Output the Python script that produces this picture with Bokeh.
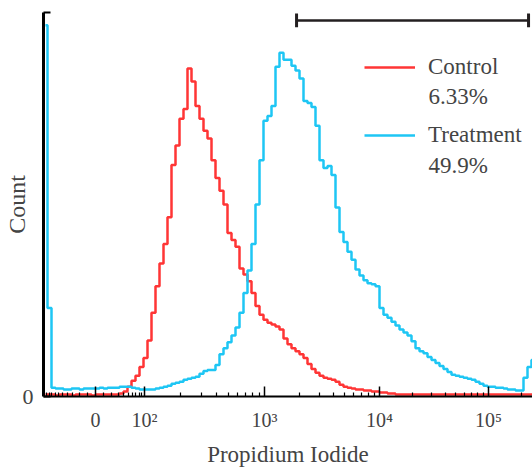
import math
from bokeh.plotting import figure
from bokeh.models import Range1d, FixedTicker, Label, Legend, LegendItem
from bokeh.embed import file_html
from bokeh.resources import INLINE

# ---------------- data ----------------
# histogram on the biexponential display scale, 4-channel bins (bin centres = 2, 6, 10, ...)
bin_width = 4
control_counts = [
    2, 2, 2, 1, 2, 2, 2, 1, 2, 2, 2, 2, 1, 2, 2, 2, 2, 2, 2,
    3, 5, 10, 16, 21, 30, 39, 57, 85, 112, 135, 155, 182, 235, 255, 282, 292, 333, 320,
    295, 282, 270, 262, 240, 222, 209, 195, 166, 159, 152, 130, 124, 117, 105, 92, 83,
    78, 75, 73, 71, 68, 59, 53, 49, 46, 43, 39, 33, 28, 24, 21, 19, 18, 17, 15, 12,
    10, 9, 8, 7, 7, 6, 6, 5, 5, 4, 4, 3, 3,
    2, 2, 2, 2, 2, 2, 2, 2, 2, 2, 2, 2, 2, 2, 2, 2, 2, 2, 2, 2, 2, 2, 2, 2, 2, 2, 2,
    2, 2, 2, 2, 2, 2, 2, 2,
]
treatment_counts = [
    377, 90, 9,
    8, 8, 7, 7, 8, 8, 7, 8, 8, 8, 8, 9, 8, 9, 9,
    9, 10, 10, 10, 9, 8, 7, 7, 7, 7, 8, 9, 10, 11, 13, 14, 15, 17, 18, 19, 20, 23, 26,
    27, 27, 32, 43, 49, 55, 62, 70, 85, 105, 128, 155, 195, 240, 280, 285, 295, 335,
    349, 342, 342, 336, 331, 323, 300, 298, 294, 275, 240, 232, 234, 225, 192, 167,
    157, 147, 139, 129, 123, 118, 115, 114, 112, 90, 83, 80, 76, 72, 68, 65, 62, 56,
    49, 46, 44, 40, 37, 34, 31, 28, 25, 22, 21, 20, 19, 18, 17, 15, 13, 11, 10, 10,
    9, 9, 8, 7, 7, 6, 6, 19, 30, 37,
]
series_names = ["Control", "Treatment"]
series_pcts = ["6.33%", "49.9%"]
x_title = "Propidium Iodide"
y_title = "Count"

# axis scale: decade -> display channel, plus linear (biex) zone below 100
decade_channels = {2: 101, 3: 221, 4: 336, 5: 445}
zero_channel = 52
lin_span = 49          # channels between 0 and 100
lin_width = 30.0       # biex width parameter
major_values = [0, 100, 1000, 10000, 100000]
major_labels = ["0", "10\u00b2", "10\u00b3", "10\u2074", "10\u2075"]
gate_values = (1900, 233000)
x_max_channel = 489
y_max_count = 390


def to_channel(v):
    if v < 100:
        return zero_channel + lin_span * math.asinh(v / lin_width) / math.asinh(100 / lin_width)
    d = math.log10(v)
    k = min(max(int(math.floor(d)), 2), 4)
    c0, c1 = decade_channels[k], decade_channels[k + 1]
    return c0 + (c1 - c0) * (d - k)


centers = [bin_width / 2 + bin_width * i for i in range(len(control_counts))]

# ---------------- figure ----------------
FONT = "Liberation Serif"
p = figure(width=532, height=469, output_backend="svg", toolbar_location=None,
           x_range=Range1d(0, x_max_channel), y_range=Range1d(0, y_max_count),
           min_border_left=43, min_border_right=0, min_border_top=12, min_border_bottom=67)
p.outline_line_color = None
p.grid.visible = False
p.background_fill_color = "white"

r_red = p.step(centers, control_counts, mode="center", line_color="#FF3535", line_width=2.5)
r_cyan = p.step(centers, treatment_counts, mode="center", line_color="#1EC6F4", line_width=2.5)

# x axis (biexponential ticks)
major_ch = [round(to_channel(v)) for v in major_values]
minor_vals = [-100] + [s * k for s in (-1, 1) for k in range(10, 100, 10)]
for dec in (100, 1000, 10000, 100000):
    minor_vals += [m * dec for m in range(2, 10)]
minor_ch = [to_channel(v) for v in minor_vals if to_channel(v) <= x_max_channel]
xa = p.xaxis[0]
xa.ticker = FixedTicker(ticks=major_ch, minor_ticks=minor_ch)
xa.major_label_overrides = {c: lab for c, lab in zip(major_ch, major_labels)}
xa.axis_line_width = 2
xa.major_tick_in = 10
xa.major_tick_out = 0
xa.minor_tick_in = 4
xa.minor_tick_out = 0
xa.major_tick_line_width = 1.5
xa.minor_tick_line_width = 1.2
xa.major_label_text_font = FONT
xa.major_label_text_font_size = "20px"
xa.major_label_standoff = 12
xa.axis_label = x_title
xa.axis_label_text_font = FONT
xa.axis_label_text_font_size = "23px"
xa.axis_label_text_font_style = "normal"
xa.axis_label_standoff = 8

ya = p.yaxis[0]
ya.ticker = FixedTicker(ticks=[0, y_max_count], minor_ticks=[])
ya.major_label_overrides = {0: "0", y_max_count: ""}
ya.axis_line_width = 3
ya.major_tick_in = 7
ya.major_tick_out = 0
ya.major_tick_line_width = 2
ya.major_label_text_font = FONT
ya.major_label_text_font_size = "22px"
ya.major_label_standoff = 10
ya.axis_label = y_title
ya.axis_label_text_font = FONT
ya.axis_label_text_font_size = "24px"
ya.axis_label_text_font_style = "normal"
ya.axis_label_standoff = -10

# gate bar
g0, g1 = to_channel(gate_values[0]), to_channel(gate_values[1])
gate_y = 382
p.segment(x0=[g0], y0=[gate_y], x1=[g1], y1=[gate_y], line_color="#231F20", line_width=2.5)
p.segment(x0=[g0, g1], y0=[gate_y - 7] * 2, x1=[g0, g1], y1=[gate_y + 7] * 2,
          line_color="#231F20", line_width=3)

# legend
legend = Legend(items=[LegendItem(label=series_names[0], renderers=[r_red]),
                       LegendItem(label=series_names[1], renderers=[r_cyan])],
                location=(321, 247), glyph_width=51, glyph_height=28, label_height=28,
                label_standoff=13, spacing=40, padding=0, margin=0,
                border_line_color=None, background_fill_alpha=0,
                label_text_font=FONT, label_text_font_size="23px")
p.add_layout(legend)
for pct, yy in zip(series_pcts, (305, 235)):
    p.add_layout(Label(x=385, y=yy, text=pct, text_align="left", text_baseline="middle",
                       text_font=FONT, text_font_size="23px"))

open("out.html", "w").write(file_html(p, INLINE))
